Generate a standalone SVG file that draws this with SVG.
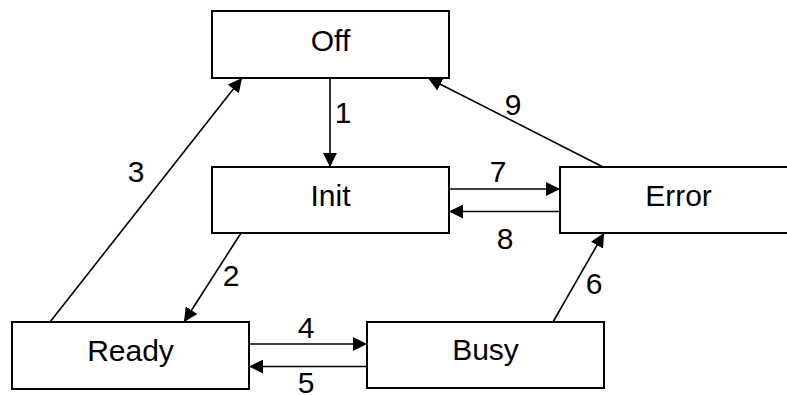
<svg xmlns="http://www.w3.org/2000/svg" width="787" height="395" viewBox="0 0 787 395">
  <style>
    .box { fill: #ffffff; stroke: #000000; stroke-width: 2; }
    .name { font-family: "Liberation Sans", Arial, sans-serif; font-size: 30px; fill: #000000; text-anchor: middle; }
    .edge { fill: none; stroke: #000000; stroke-width: 1.6; marker-end: url(#arrow); }
    .num { font-family: "Liberation Sans", Arial, sans-serif; font-size: 30px; fill: #000000; text-anchor: middle; }
  </style>
  <defs>
    <marker id="arrow" markerUnits="userSpaceOnUse" markerWidth="15" markerHeight="14" refX="14" refY="7" orient="auto">
      <path d="M0,0 L14,7 L0,14 Z" fill="#000000"/>
    </marker>
  </defs>

  <rect width="787" height="395" fill="#ffffff"/>

  <!-- transitions -->
  <g id="connectors">
    <line class="edge" x1="330" y1="78" x2="330" y2="167"/>
    <line class="edge" x1="241" y1="233" x2="184" y2="322"/>
    <line class="edge" x1="50" y1="322" x2="242" y2="78"/>
    <line class="edge" x1="249" y1="344" x2="367" y2="344"/>
    <line class="edge" x1="367" y1="366.5" x2="249" y2="366.5"/>
    <line class="edge" x1="553" y1="322" x2="604" y2="233"/>
    <line class="edge" x1="449" y1="189" x2="560" y2="189"/>
    <line class="edge" x1="560" y1="211.5" x2="449" y2="211.5"/>
    <line class="edge" x1="603" y1="167" x2="428" y2="78"/>

    <text class="num" x="343" y="123">1</text>
    <text class="num" x="231" y="286">2</text>
    <text class="num" x="136" y="182">3</text>
    <text class="num" x="306" y="338">4</text>
    <text class="num" x="306" y="393">5</text>
    <text class="num" x="594" y="294">6</text>
    <text class="num" x="498" y="182">7</text>
    <text class="num" x="505" y="249">8</text>
    <text class="num" x="513" y="115">9</text>
  </g>

  <!-- states -->
  <g id="off">
    <rect class="box" x="212" y="11" width="237" height="67"/>
    <text class="name" x="330.5" y="51">Off</text>
  </g>
  <g id="init">
    <rect class="box" x="212" y="167" width="237" height="66"/>
    <text class="name" x="330.5" y="206">Init</text>
  </g>
  <g id="error">
    <rect class="box" x="560" y="167" width="237" height="66"/>
    <text class="name" x="678.5" y="206">Error</text>
  </g>
  <g id="ready">
    <rect class="box" x="12" y="322" width="237" height="67"/>
    <text class="name" x="130.5" y="361">Ready</text>
  </g>
  <g id="busy">
    <rect class="box" x="367" y="322" width="237" height="66"/>
    <text class="name" x="485.5" y="360">Busy</text>
  </g>
</svg>
